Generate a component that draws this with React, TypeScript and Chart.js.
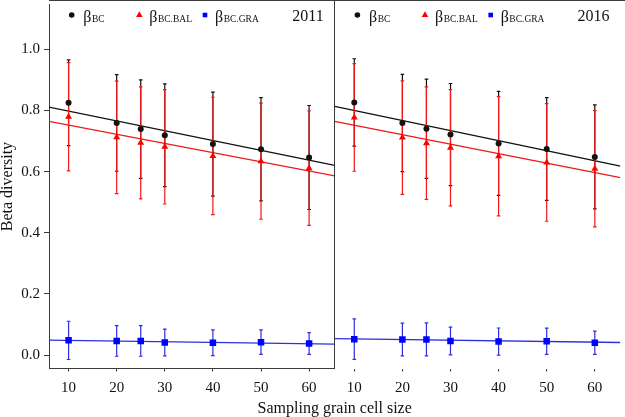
import React, { useEffect, useRef } from 'react';
import Chart from 'chart.js/auto';

// ---------- data ----------
const sizes = [10, 20, 25, 30, 40, 50, 60];
const xTicks = [10, 20, 30, 40, 50, 60];
const yTicks = [0, 0.2, 0.4, 0.6, 0.8, 1.0];
const years = ['2011', '2016'];

// 2011
const bc2011 = [0.825, 0.759, 0.739, 0.719, 0.690, 0.673, 0.646];
const bcErr2011 = [0.140, 0.158, 0.161, 0.168, 0.170, 0.169, 0.170];
const bal2011 = [0.779, 0.712, 0.694, 0.681, 0.651, 0.634, 0.611];
const balErr2011 = [0.177, 0.184, 0.183, 0.187, 0.192, 0.190, 0.187];
const gra2011 = [0.048, 0.046, 0.046, 0.041, 0.040, 0.042, 0.038];
const graErr2011 = [0.0625, 0.050, 0.050, 0.044, 0.042, 0.040, 0.0355];

// 2016
const bc2016 = [0.826, 0.759, 0.740, 0.721, 0.692, 0.674, 0.648];
const bcErr2016 = [0.143, 0.159, 0.162, 0.167, 0.170, 0.168, 0.170];
const bal2016 = [0.777, 0.711, 0.693, 0.678, 0.650, 0.630, 0.609];
const balErr2016 = [0.176, 0.1855, 0.184, 0.190, 0.195, 0.1925, 0.190];
const gra2016 = [0.052, 0.051, 0.051, 0.046, 0.044, 0.045, 0.040];
const graErr2016 = [0.066, 0.0535, 0.054, 0.0455, 0.0445, 0.043, 0.038];

// fitted lines: value at left edge and right edge of each panel
const fitBc2011 = [0.811, 0.620];
const fitBal2011 = [0.764, 0.586];
const fitGra2011 = [0.0485, 0.0356];
const fitBc2016 = [0.813, 0.618];
const fitBal2016 = [0.764, 0.580];
const fitGra2016 = [0.054, 0.041];

// ---------- styling ----------
const xMin = 5.93;
const xMax = 65.32;
const yMin = -0.044;
const yMax = 1.146;
const FONT = 'Liberation Serif';
const axisColor = '#3a3a3a';
const textColor = '#111111';
const black = '#111111';
const redLine = '#f01818';
const redMark = '#ff0000';
const blueLine = '#2f2fe0';
const blueMark = '#0000ff';

const axisIds = ['x2011', 'x2016'];

const panels = [
  { axis: 'x2011', bc: bc2011, bcErr: bcErr2011, bal: bal2011, balErr: balErr2011, gra: gra2011, graErr: graErr2011, fitBc: fitBc2011, fitBal: fitBal2011, fitGra: fitGra2011 },
  { axis: 'x2016', bc: bc2016, bcErr: bcErr2016, bal: bal2016, balErr: balErr2016, gra: gra2016, graErr: graErr2016, fitBc: fitBc2016, fitBal: fitBal2016, fitGra: fitGra2016 },
];

const pts = (vals: number[]) => sizes.map((s, i) => ({ x: s, y: vals[i] }));
const fitPts = (f: number[]) => [{ x: xMin, y: f[0] }, { x: xMax, y: f[1] }];

const datasets: any[] = [];
panels.forEach((p) => {
  datasets.push({ type: 'line', data: fitPts(p.fitBc), xAxisID: p.axis, yAxisID: 'y', borderColor: black, borderWidth: 1.3, pointRadius: 0, order: 20 });
  datasets.push({ type: 'line', data: fitPts(p.fitBal), xAxisID: p.axis, yAxisID: 'y', borderColor: redLine, borderWidth: 1.3, pointRadius: 0, order: 20 });
  datasets.push({ type: 'line', data: fitPts(p.fitGra), xAxisID: p.axis, yAxisID: 'y', borderColor: blueLine, borderWidth: 1.3, pointRadius: 0, order: 20 });
  datasets.push({ type: 'scatter', isPoints: true, data: pts(p.gra), xAxisID: p.axis, yAxisID: 'y', pointStyle: 'rect', pointRadius: 4.6, pointBorderWidth: 0, backgroundColor: blueMark, borderColor: blueMark, order: 3 });
  datasets.push({ type: 'scatter', isPoints: true, data: pts(p.bal), xAxisID: p.axis, yAxisID: 'y', pointStyle: 'triangle', pointRadius: 4, pointBorderWidth: 0, backgroundColor: redMark, borderColor: redMark, order: 2 });
  datasets.push({ type: 'scatter', isPoints: true, data: pts(p.bc), xAxisID: p.axis, yAxisID: 'y', pointStyle: 'circle', pointRadius: 3, pointBorderWidth: 0, backgroundColor: black, borderColor: black, order: 1 });
});

const errorBarPlugin = {
  id: 'errorBars',
  beforeDatasetsDraw(chart: any) {
    chart.$errDone = false;
  },
  beforeDatasetDraw(chart: any, args: any) {
    const ds = chart.data.datasets[args.index];
    if (!ds.isPoints || chart.$errDone) return;
    chart.$errDone = true;
    const ctx = chart.ctx;
    const ys = chart.scales.y;
    const cap = 1.8;
    ctx.save();
    panels.forEach((p) => {
      const xs = chart.scales[p.axis];
      const groups = [
        { m: p.bc, e: p.bcErr, c: black },
        { m: p.bal, e: p.balErr, c: redLine },
        { m: p.gra, e: p.graErr, c: blueLine },
      ];
      groups.forEach((g) => {
        ctx.strokeStyle = g.c;
        ctx.lineWidth = 1.2;
        sizes.forEach((s, i) => {
          const x = xs.getPixelForValue(s);
          const yTop = ys.getPixelForValue(g.m[i] + g.e[i]);
          const yBot = ys.getPixelForValue(g.m[i] - g.e[i]);
          ctx.beginPath();
          ctx.moveTo(x, yTop);
          ctx.lineTo(x, yBot);
          ctx.moveTo(x - cap, yTop);
          ctx.lineTo(x + cap, yTop);
          ctx.moveTo(x - cap, yBot);
          ctx.lineTo(x + cap, yBot);
          ctx.stroke();
        });
      });
    });
    ctx.restore();
  },
};

const decorPlugin = {
  id: 'decor',
  afterDraw(chart: any) {
    const ctx = chart.ctx;
    const ca = chart.chartArea;
    ctx.save();
    // frame: top line and divider
    ctx.strokeStyle = axisColor;
    ctx.lineWidth = 1;
    ctx.beginPath();
    ctx.moveTo(ca.left, 0.5);
    ctx.lineTo(chart.width, 0.5);
    const div = Math.round(chart.scales.x2011.right) - 0.5;
    ctx.moveTo(div, 0);
    ctx.lineTo(div, ca.bottom);
    ctx.stroke();

    // legends
    axisIds.forEach((id, pi) => {
      const xs = chart.scales[id];
      const L = xs.left;
      const R = xs.right;
      const ly = 15;
      const base = 21.5;
      // circle
      ctx.fillStyle = black;
      ctx.beginPath();
      ctx.arc(L + 22.7, ly, 2.8, 0, Math.PI * 2);
      ctx.fill();
      // triangle
      const tr = 3.8;
      const tx = L + 90.3;
      ctx.fillStyle = redMark;
      ctx.beginPath();
      ctx.moveTo(tx, ly - tr);
      ctx.lineTo(tx + tr * 0.866, ly + tr * 0.5);
      ctx.lineTo(tx - tr * 0.866, ly + tr * 0.5);
      ctx.closePath();
      ctx.fill();
      // square
      ctx.fillStyle = blueMark;
      ctx.fillRect(L + 156 - 2.3, ly - 2.3, 4.6, 4.6);

      const items = [
        { x: L + 34.3, sub: 'BC' },
        { x: L + 100.3, sub: 'BC.BAL' },
        { x: L + 166, sub: 'BC.GRA' },
      ];
      ctx.fillStyle = textColor;
      ctx.textBaseline = 'alphabetic';
      ctx.textAlign = 'left';
      items.forEach((it) => {
        ctx.font = `16px "${FONT}"`;
        ctx.fillText('β', it.x, base);
        const w = ctx.measureText('β').width;
        ctx.font = `9.5px "${FONT}"`;
        ctx.fillText(it.sub, it.x + w + 0.5, base);
      });
      // year
      ctx.font = `16px "${FONT}"`;
      ctx.textAlign = 'right';
      ctx.fillText(years[pi], R - 11, 20.7);
    });

    // shared x-axis title
    ctx.font = `16px "${FONT}"`;
    ctx.textAlign = 'center';
    ctx.textBaseline = 'middle';
    ctx.fillStyle = textColor;
    ctx.fillText('Sampling grain cell size', (ca.left + ca.right) / 2, 408.5);
    ctx.restore();
  },
};

const makeX = (showBorder: boolean) => ({
  type: 'linear',
  position: 'bottom',
  stack: 'panels',
  min: xMin,
  max: xMax,
  afterBuildTicks: (axis: any) => {
    axis.ticks = xTicks.map((v) => ({ value: v }));
  },
  afterFit: (s: any) => {
    s.height = 48.5;
    s.paddingLeft = 0;
    s.paddingRight = 0;
  },
  grid: { display: true, drawOnChartArea: false, drawTicks: true, tickLength: 3, color: axisColor, lineWidth: 1 },
  border: { display: showBorder, color: axisColor, width: 1 },
  ticks: {
    font: { family: FONT, size: 15 },
    color: textColor,
    padding: 8,
    maxRotation: 0,
    autoSkip: false,
    callback: (v: any) => String(v),
  },
});

export default function App() {
  const ref = useRef<HTMLCanvasElement>(null);
  useEffect(() => {
    document.body.style.margin = '0';
    const chart = new Chart(ref.current as HTMLCanvasElement, {
      type: 'scatter',
      data: { datasets },
      options: {
        animation: false,
        responsive: false,
        devicePixelRatio: 1,
        layout: { padding: { top: 1, right: 1, left: 0, bottom: 0 } },
        plugins: { legend: { display: false }, tooltip: { enabled: false } },
        scales: {
          x2011: makeX(true),
          x2016: makeX(false),
          y: {
            type: 'linear',
            position: 'left',
            min: yMin,
            max: yMax,
            afterBuildTicks: (axis: any) => {
              axis.ticks = yTicks.map((v) => ({ value: v }));
            },
            afterFit: (s: any) => {
              s.width = 49;
              s.paddingTop = 0;
              s.paddingBottom = 0;
            },
            grid: { display: true, drawOnChartArea: false, drawTicks: true, tickLength: 5, color: axisColor },
            border: { display: true, color: axisColor, width: 1 },
            ticks: {
              font: { family: FONT, size: 15 },
              color: textColor,
              padding: 4,
              callback: (v: any) => Number(v).toFixed(1),
            },
            title: {
              display: true,
              text: 'Beta diversity',
              color: textColor,
              font: { family: FONT, size: 16, lineHeight: 1 },
              padding: 0,
            },
          },
        },
      } as any,
      plugins: [errorBarPlugin, decorPlugin],
    } as any);
    return () => chart.destroy();
  }, []);
  return (
    <div style={{ position: 'absolute', left: 0, top: 0, width: 625, height: 417 }}>
      <canvas ref={ref} width={625} height={417} style={{ display: 'block' }} />
    </div>
  );
}
